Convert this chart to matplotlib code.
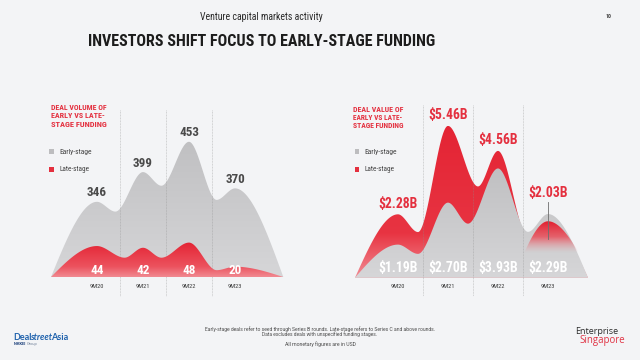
import numpy as np
import matplotlib
matplotlib.use("Agg")
import matplotlib.pyplot as plt
from matplotlib import font_manager as fm
from matplotlib.patches import Polygon, Rectangle
from matplotlib.lines import Line2D

# ---------------- data ----------------
categories = ["9M20", "9M21", "9M22", "9M23"]
volume_early = [346, 399, 453, 370]
volume_late = [44, 42, 48, 20]
value_early = [1.19, 2.70, 3.93, 2.29]   # US$ billions
value_late = [2.28, 5.46, 4.56, 2.03]    # US$ billions

title = "INVESTORS SHIFT FOCUS TO EARLY-STAGE FUNDING"
subtitle = "Venture capital markets activity"
page_no = "10"
left_header = ["DEAL VOLUME OF", "EARLY VS LATE-", "STAGE FUNDING"]
right_header = ["DEAL VALUE OF", "EARLY VS LATE-", "STAGE FUNDING"]
legend_labels = ["Early-stage", "Late-stage"]
footnotes = ["Early-stage deals refer to seed through Series B rounds. Late-stage refers to Series C and above rounds.",
             "Data excludes deals with unspecified funding stages.",
             "All monetary figures are in USD"]

# ---------------- fonts ----------------
names = {f.name for f in fm.fontManager.ttflist}
COND = None
for cand in ["Roboto Condensed", "Liberation Sans Narrow", "Open Sans Condensed",
             "Noto Sans Condensed", "DejaVu Sans Condensed", "Arial Narrow"]:
    if cand in names:
        COND = cand
        break
COND_STRETCH = "normal"
if COND is None:
    for f in fm.fontManager.ttflist:
        if str(f.stretch) in ("condensed", "semi-condensed", "extra-condensed"):
            COND = f.name
            COND_STRETCH = str(f.stretch)
            break
if COND is None:
    COND = "Roboto"
SANS = "Roboto"
LOGO = "Lato"

# ---------------- colours ----------------
BG = "#f3f4f6"
RED = "#e4303f"
DARK = "#1c1c1c"

W, H = 640, 360
fig = plt.figure(figsize=(6.4, 3.6), dpi=100)
fig.patch.set_facecolor(BG)
renderer = fig.canvas.get_renderer()


def fx(px):
    return px / W


def fy(py):
    return 1 - py / H


def ftext(px, py, s, size, family=COND, weight="normal", color=DARK, ha="left",
          va="center", fitw=None, style="normal"):
    t = fig.text(fx(px), fy(py), s, fontsize=size, family=family, weight=weight,
                 color=color, ha=ha, va=va,
                 fontstretch=COND_STRETCH if family == COND else "normal", style=style)
    if fitw is not None:
        bb = t.get_window_extent(renderer)
        t.set_fontsize(size * fitw / bb.width)
    return t


def fitted_size(s, target_w, family=COND, weight="bold", ref=10.0):
    t = fig.text(0, 0, s, fontsize=ref, family=family, weight=weight)
    w = t.get_window_extent(renderer).width
    t.remove()
    return ref * target_w / w


def hermite(knots, xs):
    kx = np.array([k[0] for k in knots])
    ky = np.array([k[1] for k in knots])
    km = np.array([k[2] for k in knots])
    ys = np.zeros_like(xs)
    for i in range(len(knots) - 1):
        x0, x1 = kx[i], kx[i + 1]
        m = (xs >= x0) & (xs <= x1)
        h = x1 - x0
        t = (xs[m] - x0) / h
        h00 = 2 * t**3 - 3 * t**2 + 1
        h10 = t**3 - 2 * t**2 + t
        h01 = -2 * t**3 + 3 * t**2
        h11 = t**3 - t**2
        ys[m] = h00 * ky[i] + h10 * h * km[i] + h01 * ky[i + 1] + h11 * h * km[i + 1]
    return ys


def profile(values, base, pos, x_start, x_end, ratio, frac, xs, flank=1.5):
    h = np.asarray(values, float) - base
    knots = [(x_start, 0.0, flank * h[0] / (pos[0] - x_start))]
    valleys = []
    for i in range(len(h)):
        knots.append((pos[i], h[i], 0.0))
        if i < len(h) - 1:
            lo, hi = (i, i + 1) if h[i] <= h[i + 1] else (i + 1, i)
            xv = pos[lo] + frac * (pos[hi] - pos[lo])
            yv = ratio * min(h[i], h[i + 1])
            knots.append((xv, yv, 0.0))
            valleys.append((xv, base + yv))
    knots.append((x_end, 0.0, -flank * h[-1] / (x_end - pos[-1])))
    return base + hermite(knots, xs), valleys


def grad_fill(ax, xs, ys, base, stops, zorder):
    verts = np.column_stack([np.r_[xs[0], xs, xs[-1]], np.r_[base, ys, base]])
    poly = Polygon(verts, closed=True, facecolor="none", edgecolor="none")
    ax.add_patch(poly)
    ytop = ys.max()
    n = 300
    yy = np.linspace(ytop, base, n)
    sy = np.array([s[0] for s in stops])
    cols = np.array([s[1] for s in stops], float)
    order = np.argsort(sy)
    img = np.zeros((n, 1, 4))
    for c in range(4):
        img[:, 0, c] = np.interp(yy, sy[order], cols[order, c])
    im = ax.imshow(img, extent=[xs.min(), xs.max(), base, ytop], aspect="auto",
                   origin="upper", zorder=zorder, interpolation="bilinear")
    im.set_clip_path(poly)
    return im


def rgba(r, g, b, a=1.0):
    return (r / 255, g / 255, b / 255, a)


pos = np.arange(len(categories), dtype=float)
NUM_L = fitted_size("453", 20)
NUM_R = fitted_size("$5.46B", 39.5)

# =============== LEFT CHART (deal volume) ===============
L_left, L_right, L_top, L_bot = 40, 300, 95, 277
axL = fig.add_axes([fx(L_left), fy(L_bot), (L_right - L_left) / W, (L_bot - L_top) / H])
axL2 = axL.twinx()
for a in (axL, axL2):
    a.axis("off")
    a.patch.set_alpha(0)
xl = ((L_left - 97) / 46, (L_right - 97) / 46)
g_base, g_scale = 212, 0.561     # early-stage axis
r_base, r_scale = 8, 0.86        # late-stage axis
hpx = L_bot - L_top

xs = np.linspace(-1.0, 4.05, 800)
yg, _ = profile(volume_early, g_base, pos, -1.0, 4.05, 0.87, 0.4, xs)
yr, _ = profile(volume_late, r_base, pos, -1.0, 4.05, 0.66, 0.4, xs)
grad_fill(axL, xs, yg, g_base,
          [(max(volume_early), rgba(192, 192, 194)), (g_base, rgba(214, 214, 216))], 1)
grad_fill(axL2, xs, yr, r_base,
          [(max(volume_late), rgba(228, 36, 52)),
           (r_base + 0.3 * (max(volume_late) - r_base), rgba(236, 82, 94)),
           (r_base, rgba(241, 138, 146))], 2)
axL.set_xlim(*xl)
axL2.set_xlim(*xl)
axL.set_ylim(g_base, g_base + hpx / g_scale)
axL2.set_ylim(r_base, r_base + hpx / r_scale)

for i, v in enumerate(volume_early):
    axL.text(pos[i], v + 16, f"{v}", ha="center", va="center", fontsize=NUM_L,
             family=COND, weight="bold", color="#4a4a4a", zorder=5)
for i, v in enumerate(volume_late):
    axL2.text(pos[i], r_base + 6.5 / r_scale, f"{v}", ha="center", va="center", fontsize=NUM_L,
              family=COND, weight="bold", color="white", zorder=5)

# =============== RIGHT CHART (deal value) ===============
R_left, R_right, R_top, R_bot = 345, 600, 95, 277.7
axR = fig.add_axes([fx(R_left), fy(R_bot), (R_right - R_left) / W, (R_bot - R_top) / H])
axR.axis("off")
axR.patch.set_alpha(0)
xr = ((R_left - 398) / 50, (R_right - 398) / 50)
v_scale = 27.8
rhpx = R_bot - R_top

xs2 = np.linspace(-0.86, 3.8, 800)
yg2, _ = profile(value_early, 0, pos, -0.86, 3.8, 0.72, 0.4, xs2)
yr2, rvalleys = profile(value_late, 0, pos, -0.86, 3.8, 0.72, 0.4, xs2)
grad_fill(axR, xs2, yr2, 0,
          [(max(value_late), rgba(228, 36, 52)), (1.6, rgba(232, 52, 66)),
           (0, rgba(241, 140, 148))], 1)
grad_fill(axR, xs2, yg2, 0,
          [(max(value_early), rgba(192, 192, 194)), (0, rgba(214, 214, 216))], 2)
# late-stage bumps that sit below early-stage are drawn in front, fading out
for i in range(len(categories)):
    if value_late[i] < value_early[i]:
        xa, xb = pos[i] - 0.68, pos[i] + 0.88
        xb_ = np.linspace(xa, xb, 400)
        yb_, _ = profile([value_late[i]], 0, [pos[i]], xa, xb, 0.7, 0.4, xb_)
        lvl = 0.45 * value_late[i]
        grad_fill(axR, xb_, yb_, 0,
                  [(value_late[i], rgba(226, 30, 46, 1.0)),
                   (lvl + 0.5 * (value_late[i] - lvl), rgba(234, 78, 90, 0.85)),
                   (lvl, rgba(232, 150, 156, 0.0)), (0, rgba(232, 150, 156, 0.0))], 3)
        axR.add_line(Line2D([pos[i], pos[i]], [value_late[i] * 0.68, value_early[i] + 12.5 / v_scale],
                            color="#6e6e6e", lw=0.6, zorder=4))
axR.set_xlim(*xr)
axR.set_ylim(0, rhpx / v_scale)

for i in range(len(categories)):
    top = max(value_early[i], value_late[i])
    off = 10.5 / v_scale if value_late[i] >= value_early[i] else 21 / v_scale
    axR.text(pos[i], top + off, f"${value_late[i]:.2f}B", ha="center", va="center",
             fontsize=NUM_R, family=COND, weight="bold", color=RED, zorder=5)
    axR.text(pos[i], 9.4 / v_scale, f"${value_early[i]:.2f}B", ha="center", va="center",
             fontsize=NUM_R, family=COND, weight="bold", color="white", zorder=5)

# ---------------- dividers & category labels ----------------
for ax, top_px, bot_px, cat_px, ax_top, ax_bot in [
        (axL, 110, 296, 287, L_top, L_bot), (axR, 105, 296, 287, R_top, R_bot)]:
    hh = ax_bot - ax_top
    tr = ax.get_xaxis_transform()
    for d in pos[:-1] + 0.5:
        ax.add_line(Line2D([d, d], [(ax_bot - top_px) / hh, (ax_bot - bot_px) / hh],
                           transform=tr, color="#8e8e8e", lw=0.5, alpha=0.55,
                           linestyle=(0, (1.2, 1.0)), clip_on=False, zorder=6))
    for i, c in enumerate(categories):
        ax.text(pos[i], (ax_bot - cat_px) / hh, c, transform=tr, ha="center", va="center",
                fontsize=4.6, family=COND, color="#3a3a3a", clip_on=False)

# ---------------- headers & legends ----------------
for x0, lines, ys_, widths in [(51, left_header, [107.3, 116.0, 124.6], [56, 54, 56]),
                               (353, right_header, [109.8, 117.6, 125.3], [50.5, 50, 51])]:
    for s, yy, w in zip(lines, ys_, widths):
        ftext(x0, yy, s, 6.0, weight="bold", color=RED, fitw=w)

for sq_x, ys_ in [(49, [151.7, 169.3]), (354.5, [151.7, 169.2])]:
    for lab, yy, col in zip(legend_labels, ys_, ["#bdbdbf", RED]):
        fig.patches.append(Rectangle((fx(sq_x), fy(yy + 2.3)), 4.6 / W, 4.6 / H,
                                     transform=fig.transFigure, facecolor=col, edgecolor="none"))
        ftext(sq_x + 10, yy, lab, 5.2, color="#444444",
              fitw=33 if lab == legend_labels[0] else 30)

# ---------------- titles ----------------
ftext(261, 17, subtitle, 9, color="#2a2a2a", ha="center", fitw=123)
ftext(261.5, 41.5, title, 15, weight="bold", color=DARK, ha="center", fitw=349)
ftext(609, 16, page_no, 4.2, weight="bold", color="#444444", ha="center")

# ---------------- footnotes ----------------
ftext(320, 328.7, footnotes[0], 3.6, family=SANS, color="#4a4a4a", ha="center", fitw=229)
ftext(320, 334.2, footnotes[1], 3.6, family=SANS, color="#4a4a4a", ha="center", fitw=116)
ftext(320, 344.3, footnotes[2], 3.6, family=SANS, color="#4a4a4a", ha="center", fitw=71)

# ---------------- logos (text) ----------------
t1 = ftext(13.3, 337.3, "Deal", 6.5, family=LOGO, weight="bold", color="#1f62ad")
bb = t1.get_window_extent(renderer)
t2 = ftext(bb.x1 - 1.4, 337.3, "street", 6.5, family=LOGO, weight="bold", color="#1f62ad",
           style="italic")
bb = t2.get_window_extent(renderer)
ftext(bb.x1 - 1.4, 337.3, "Asia", 6.5, family=LOGO, weight="bold", color="#1f62ad")
t4 = ftext(13.8, 344.2, "NIKKEI", 2.9, family=SANS, weight="bold", color="#1b3f7a")
bb = t4.get_window_extent(renderer)
ftext(bb.x1 + 0.5, 344.2, "Group", 2.9, family=SANS, color="#6b7c95")

ftext(575, 331.8, "Enterprise", 6.5, family="Open Sans", color="#2b2b2b", fitw=43)
ftext(579.3, 340.9, "Singapore", 6.5, family="Open Sans", color="#e03344", fitw=45)

fig.savefig("out.png", dpi=100, facecolor=BG)
